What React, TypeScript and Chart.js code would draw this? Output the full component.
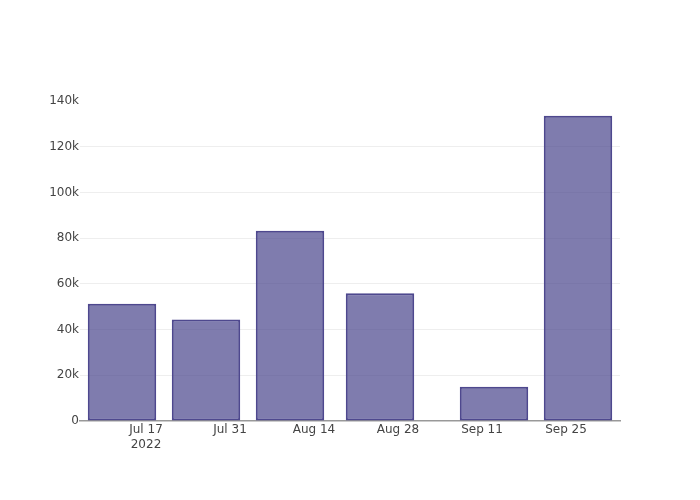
import React, { useEffect, useRef } from "react";
import { Chart, registerables } from "chart.js";

Chart.register(...registerables);

const barDates = ["2022-07-13", "2022-07-27", "2022-08-10", "2022-08-25", "2022-09-13", "2022-09-27"];
const barValues = [51300, 44400, 83200, 55900, 15000, 133600];
const xTickDates = ["2022-07-17", "2022-07-31", "2022-08-14", "2022-08-28", "2022-09-11", "2022-09-25"];
const xTickLabels: (string | string[])[] = [["Jul 17", "2022"], "Jul 31", "Aug 14", "Aug 28", "Sep 11", "Sep 25"];
const xRange = ["2022-07-06", "2022-10-04"];
const yTicks = [0, 20000, 40000, 60000, 80000, 100000, 120000, 140000];
const yTickLabels = ["0", "20k", "40k", "60k", "80k", "100k", "120k", "140k"];

const toDay = (s: string) => {
  const [y, m, d] = s.split("-").map(Number);
  return Date.UTC(y, m - 1, d) / 86400000;
};

export default function App() {
  const ref = useRef<HTMLCanvasElement | null>(null);
  useEffect(() => {
    if (!ref.current) return;
    const font = { family: "'DejaVu Sans', Verdana, sans-serif", size: 12 };
    const xt = xTickDates.map(toDay);
    const chart = new Chart(ref.current, {
      type: "bar",
      data: {
        datasets: [
          {
            data: barDates.map((d, i) => ({ x: toDay(d), y: barValues[i] })),
            backgroundColor: "rgba(72, 68, 140, 0.7)",
            borderColor: "rgba(68, 62, 136, 0.95)",
            borderWidth: 2,
            borderSkipped: false,
            barPercentage: 0.815,
            categoryPercentage: 1,
          },
        ],
      },
      options: {
        animation: false,
        responsive: true,
        maintainAspectRatio: false,
        layout: { padding: { left: 0, right: 80, top: 101, bottom: 0 } },
        plugins: { legend: { display: false }, tooltip: { enabled: false } },
        scales: {
          x: {
            type: "linear",
            offset: false,
            min: toDay(xRange[0]),
            max: toDay(xRange[1]),
            afterBuildTicks: (s: any) => {
              s.ticks = xt.map((v) => ({ value: v }));
            },
            afterFit: (s: any) => {
              s.height = 79;
            },
            ticks: {
              font,
              color: "#444",
              padding: 2,
              maxRotation: 0,
              autoSkip: false,
              callback: (v: any) => {
                const i = xt.indexOf(Number(v));
                return i >= 0 ? xTickLabels[i] : "";
              },
            },
            grid: { display: false, drawTicks: false, offset: false },
            border: { display: true, color: "#999", width: 1.5 },
          },
          y: {
            min: 0,
            max: 140000,
            afterBuildTicks: (s: any) => {
              s.ticks = yTicks.map((v) => ({ value: v }));
            },
            afterFit: (s: any) => {
              s.width = 80;
            },
            ticks: {
              font,
              color: "#444",
              padding: 1,
              callback: (v: any) => {
                const i = yTicks.indexOf(Number(v));
                return i >= 0 ? yTickLabels[i] : "";
              },
            },
            grid: {
              drawTicks: false,
              color: (ctx: any) =>
                ctx.tick && (ctx.tick.value === 0 || ctx.tick.value === 140000) ? "rgba(0,0,0,0)" : "#eeeeee",
              lineWidth: 1,
            },
            border: { display: false },
          },
        },
      },
    });
    return () => chart.destroy();
  }, []);
  return (
    <div style={{ position: "absolute", left: 0, top: 0, width: 700, height: 500, background: "#fff" }}>
      <canvas ref={ref} />
    </div>
  );
}
